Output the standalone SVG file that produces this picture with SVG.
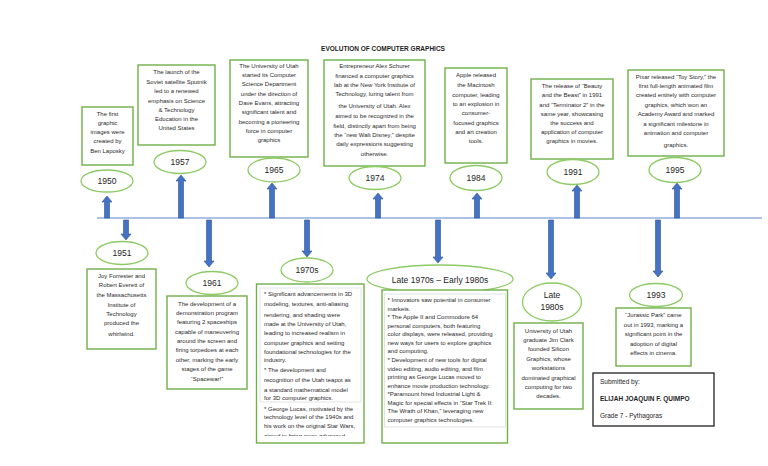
<svg xmlns="http://www.w3.org/2000/svg" width="768" height="466" viewBox="0 0 768 466">
<style>
.box{fill:#fff;stroke:#70b048;stroke-width:1.4}
.ell{fill:#fff;stroke:#8ccb63;stroke-width:1.3}
.inner{fill:#fff;stroke:#d8d8d8;stroke-width:0.7}
.arr{fill:#4472c4;stroke:#2f528f;stroke-width:0.6}
.t{font-family:"Liberation Sans",Arial,sans-serif;font-size:6px;fill:#2a2a2a;text-anchor:middle}
.tl{font-family:"Liberation Sans",Arial,sans-serif;font-size:6px;fill:#2a2a2a;text-anchor:start}
.y{font-family:"Liberation Sans",Arial,sans-serif;font-size:8.5px;fill:#1e1e1e;text-anchor:middle}
.s{font-family:"Liberation Sans",Arial,sans-serif;font-size:6.5px;fill:#1e1e1e}
</style>
<defs>
<clipPath id="clip70"><rect x="257" y="285" width="106" height="151"/></clipPath>
</defs>
<rect width="768" height="466" fill="#fff"/>
<text x="383" y="51" font-family="Liberation Sans, Arial, sans-serif" font-size="6.5" font-weight="bold" fill="#1e1e1e" text-anchor="middle">EVOLUTION OF COMPUTER GRAPHICS</text>

<g id="connectors">
<line x1="97" y1="218" x2="762" y2="218" stroke="#adc2e6" stroke-width="2"/>
<path class="arr" d="M104.5,218 V202 H102 L107,196 L112,202 H109.5 V218 Z"/>
<path class="arr" d="M178.5,218 V181 H176 L181,175 L186,181 H183.5 V218 Z"/>
<path class="arr" d="M269.5,218 V189 H267 L272,183 L277,189 H274.5 V218 Z"/>
<path class="arr" d="M375.5,218 V199 H373 L378,193 L383,199 H380.5 V218 Z"/>
<path class="arr" d="M474.5,218 V199 H472 L477,193 L482,199 H479.5 V218 Z"/>
<path class="arr" d="M574.5,218 V191 H572 L577,185 L582,191 H579.5 V218 Z"/>
<path class="arr" d="M674.5,218 V189 H672 L677,183 L682,189 H679.5 V218 Z"/>
<path class="arr" d="M123.5,220 V234 H121 L126,240 L131,234 H128.5 V220 Z"/>
<path class="arr" d="M206.5,220 V261 H204 L209,267 L214,261 H211.5 V220 Z"/>
<path class="arr" d="M304.5,220 V251 H302 L307,257 L312,251 H309.5 V220 Z"/>
<path class="arr" d="M435.5,220 V257 H433 L438,263 L443,257 H440.5 V220 Z"/>
<path class="arr" d="M548.5,220 V273 H546 L551,279 L556,273 H553.5 V220 Z"/>
<path class="arr" d="M655.5,220 V271 H653 L658,277 L663,271 H660.5 V220 Z"/>
</g>

<g id="n1950">
<rect class="box" x="82" y="107" width="51" height="58"/>
<text class="t" x="107.5" y="116">The first</text>
<text class="t" x="107.5" y="125">graphic</text>
<text class="t" x="107.5" y="134">images were</text>
<text class="t" x="107.5" y="143">created by</text>
<text class="t" x="107.5" y="153">Ben Laposky</text>
<ellipse class="ell" cx="107" cy="181" rx="26" ry="11"/>
<text class="y" x="107" y="184">1950</text>
</g>

<g id="n1957">
<rect class="box" x="138" y="65" width="77" height="80"/>
<text class="t" x="176.5" y="74">The launch of the</text>
<text class="t" x="176.5" y="84">Soviet satellite Sputnik</text>
<text class="t" x="176.5" y="93">led to a renewed</text>
<text class="t" x="176.5" y="103">emphasis on Science</text>
<text class="t" x="176.5" y="112">&amp; Technology</text>
<text class="t" x="176.5" y="121">Education in the</text>
<text class="t" x="176.5" y="130">United States</text>
<ellipse class="ell" cx="180" cy="162" rx="26" ry="11.5"/>
<text class="y" x="180" y="165">1957</text>
</g>

<g id="n1965">
<rect class="box" x="230" y="60" width="78" height="97"/>
<text class="t" x="269" y="68">The University of Utah</text>
<text class="t" x="269" y="77">started its Computer</text>
<text class="t" x="269" y="86">Science Department</text>
<text class="t" x="269" y="96">under the direction of</text>
<text class="t" x="269" y="105">Dave Evans, attracting</text>
<text class="t" x="269" y="114">significant talent and</text>
<text class="t" x="269" y="124">becoming a pioneering</text>
<text class="t" x="269" y="133">force in computer</text>
<text class="t" x="269" y="142">graphics</text>
<ellipse class="ell" cx="274" cy="170" rx="26" ry="12"/>
<text class="y" x="274" y="173">1965</text>
</g>

<g id="n1974">
<rect class="box" x="324" y="60" width="101" height="106"/>
<text class="t" x="374.5" y="68">Entrepreneur Alex Schurer</text>
<text class="t" x="374.5" y="78">financed a computer graphics</text>
<text class="t" x="374.5" y="86.5">lab at the New York Institute of</text>
<text class="t" x="374.5" y="95.5">Technology, luring talent from</text>
<text class="t" x="374.5" y="108">the University of Utah. Alex</text>
<text class="t" x="374.5" y="118">aimed to be recognized in the</text>
<text class="t" x="374.5" y="127.5">field, distinctly apart from being</text>
<text class="t" x="374.5" y="137">the “new Walt Disney,” despite</text>
<text class="t" x="374.5" y="146">daily expressions suggesting</text>
<text class="t" x="374.5" y="155.5">otherwise.</text>
<ellipse class="ell" cx="375" cy="178" rx="26" ry="11.5"/>
<text class="y" x="375" y="181">1974</text>
</g>

<g id="n1984">
<rect class="box" x="445" y="68" width="62" height="95"/>
<text class="t" x="476" y="77">Apple released</text>
<text class="t" x="476" y="87">the Macintosh</text>
<text class="t" x="476" y="96.5">computer, leading</text>
<text class="t" x="476" y="105.5">to an explosion in</text>
<text class="t" x="476" y="115">consumer-</text>
<text class="t" x="476" y="124.5">focused graphics</text>
<text class="t" x="476" y="134">and art creation</text>
<text class="t" x="476" y="143">tools.</text>
<ellipse class="ell" cx="476" cy="178" rx="26" ry="12.5"/>
<text class="y" x="476" y="181">1984</text>
</g>

<g id="n1991">
<rect class="box" x="531" y="79" width="82" height="80"/>
<text class="t" x="572" y="88">The release of “Beauty</text>
<text class="t" x="572" y="97">and the Beast” in 1991</text>
<text class="t" x="572" y="106.5">and “Terminator 2” in the</text>
<text class="t" x="572" y="115.5">same year, showcasing</text>
<text class="t" x="572" y="124.5">the success and</text>
<text class="t" x="572" y="134">application of computer</text>
<text class="t" x="572" y="143">graphics in movies.</text>
<ellipse class="ell" cx="573" cy="172" rx="26" ry="12.5"/>
<text class="y" x="573" y="175">1991</text>
</g>

<g id="n1995">
<rect class="box" x="628" y="70" width="96" height="86"/>
<text class="t" x="676" y="79">Pixar released “Toy Story,” the</text>
<text class="t" x="676" y="88">first full-length animated film</text>
<text class="t" x="676" y="97">created entirely with computer</text>
<text class="t" x="676" y="106.5">graphics, which won an</text>
<text class="t" x="676" y="116">Academy Award and marked</text>
<text class="t" x="676" y="125.5">a significant milestone in</text>
<text class="t" x="676" y="135">animation and computer</text>
<text class="t" x="676" y="147">graphics.</text>
<ellipse class="ell" cx="675" cy="170" rx="26" ry="12.5"/>
<text class="y" x="675" y="173">1995</text>
</g>

<g id="n1951">
<ellipse class="ell" cx="122" cy="253" rx="26" ry="11.5"/>
<text class="y" x="122" y="256">1951</text>
<rect class="box" x="87" y="269" width="69" height="80"/>
<text class="t" x="121.5" y="278">Joy Forrester and</text>
<text class="t" x="121.5" y="287">Robert Everett of</text>
<text class="t" x="121.5" y="296.5">the Massachusetts</text>
<text class="t" x="121.5" y="306.5">Institute of</text>
<text class="t" x="121.5" y="315.5">Technology</text>
<text class="t" x="121.5" y="324.5">produced the</text>
<text class="t" x="121.5" y="335.5">whirlwind.</text>
</g>

<g id="n1961">
<ellipse class="ell" cx="212" cy="283" rx="26" ry="11.5"/>
<text class="y" x="212" y="286">1961</text>
<rect class="box" x="167" y="296" width="80" height="93"/>
<text class="t" x="207" y="305.5">The development of a</text>
<text class="t" x="207" y="314.5">demonstration program</text>
<text class="t" x="207" y="324">featuring 2 spaceships</text>
<text class="t" x="207" y="334">capable of maneuvering</text>
<text class="t" x="207" y="343">around the screen and</text>
<text class="t" x="207" y="352">firing torpedoes at each</text>
<text class="t" x="207" y="361.5">other, marking the early</text>
<text class="t" x="207" y="371">stages of the game</text>
<text class="t" x="207" y="380.5">“Spacewar!”</text>
</g>

<g id="n1970s">
<ellipse class="ell" cx="307" cy="270" rx="26" ry="12"/>
<text class="y" x="307" y="273">1970s</text>
<rect class="box" x="256.5" y="284" width="107.5" height="159"/>
<rect class="inner" x="260" y="288" width="101" height="114"/>
<g clip-path="url(#clip70)">
<text class="tl" x="264" y="296">* Significant advancements in 3D</text>
<text class="tl" x="264" y="306">modeling, textures, anti-aliasing</text>
<text class="tl" x="264" y="316.5">rendering,  and shading were</text>
<text class="tl" x="264" y="325.5">made at the University of Utah,</text>
<text class="tl" x="264" y="334.5">leading to increased realism in</text>
<text class="tl" x="264" y="345">computer graphics and setting</text>
<text class="tl" x="264" y="354">foundational technologies for the</text>
<text class="tl" x="264" y="362">industry.</text>
<text class="tl" x="264" y="371.5">* The development and</text>
<text class="tl" x="264" y="382">recognition of the Utah teapot as</text>
<text class="tl" x="264" y="391.5">a standard mathematical model</text>
<text class="tl" x="264" y="399.5">for 3D computer graphics.</text>
<text class="tl" x="264" y="410.5">* George Lucas, motivated by the</text>
<text class="tl" x="264" y="419">technology level of the 1940s and</text>
<text class="tl" x="264" y="427.5">his work on the original Star Wars,</text>
<text class="tl" x="264" y="437.5">aimed to bring more advanced</text>
</g>
</g>

<g id="nLate70s">
<ellipse class="ell" cx="440" cy="279" rx="73" ry="14"/>
<text class="y" x="440" y="283" font-size="8">Late 1970s – Early 1980s</text>
<rect class="box" x="382" y="290" width="125.5" height="153"/>
<rect class="inner" x="384.5" y="294" width="121" height="133"/>
<text class="tl" x="387.5" y="302">* Innovators saw potential in consumer</text>
<text class="tl" x="387.5" y="310.5">markets.</text>
<text class="tl" x="387.5" y="319">* The Apple II and Commodore 64</text>
<text class="tl" x="387.5" y="327.5">personal computers, both featuring</text>
<text class="tl" x="387.5" y="336">color displays, were released, providing</text>
<text class="tl" x="387.5" y="344.5">new ways for users to explore graphics</text>
<text class="tl" x="387.5" y="353">and computing.</text>
<text class="tl" x="387.5" y="362">* Development of new tools for digital</text>
<text class="tl" x="387.5" y="370.5">video editing, audio editing, and film</text>
<text class="tl" x="387.5" y="379">printing as George Lucas moved to</text>
<text class="tl" x="387.5" y="387.5">enhance movie production technology.</text>
<text class="tl" x="387.5" y="396">*Paramount hired Industrial Light &amp;</text>
<text class="tl" x="387.5" y="404.5">Magic for special effects in “Star Trek II:</text>
<text class="tl" x="387.5" y="413">The Wrath of Khan,” leveraging new</text>
<text class="tl" x="387.5" y="422">computer graphics technologies.</text>
</g>

<g id="nLate80s">
<ellipse class="ell" cx="552" cy="302" rx="29.5" ry="19"/>
<text class="y" x="552" y="298">Late</text>
<text class="y" x="552" y="310">1980s</text>
<rect class="box" x="514" y="323" width="69" height="86"/>
<text class="t" x="548.5" y="333">University of Utah</text>
<text class="t" x="548.5" y="342">graduate Jim Clark</text>
<text class="t" x="548.5" y="351">founded Silicon</text>
<text class="t" x="548.5" y="360.5">Graphics, whose</text>
<text class="t" x="548.5" y="370">workstations</text>
<text class="t" x="548.5" y="379.5">dominated graphical</text>
<text class="t" x="548.5" y="389">computing for two</text>
<text class="t" x="548.5" y="398">decades.</text>
</g>

<g id="n1993">
<ellipse class="ell" cx="656" cy="295" rx="26.5" ry="11.5"/>
<text class="y" x="656" y="298">1993</text>
<rect class="box" x="616" y="308" width="75" height="58"/>
<text class="t" x="653.5" y="317">“Jurassic Park” came</text>
<text class="t" x="653.5" y="326.5">out in 1993, marking a</text>
<text class="t" x="653.5" y="336">significant point in the</text>
<text class="t" x="653.5" y="345.5">adoption of digital</text>
<text class="t" x="653.5" y="355">effects in cinema.</text>
</g>

<g id="submitted">
<rect x="593" y="373" width="121" height="53" fill="#fff" stroke="#222" stroke-width="1.3"/>
<text class="s" x="600" y="384">Submitted by:</text>
<text class="s" x="600" y="400.5" font-weight="bold">ELIJAH JOAQUIN F. QUIMPO</text>
<text class="s" x="600" y="418">Grade 7 - Pythagoras</text>
</g>
</svg>
